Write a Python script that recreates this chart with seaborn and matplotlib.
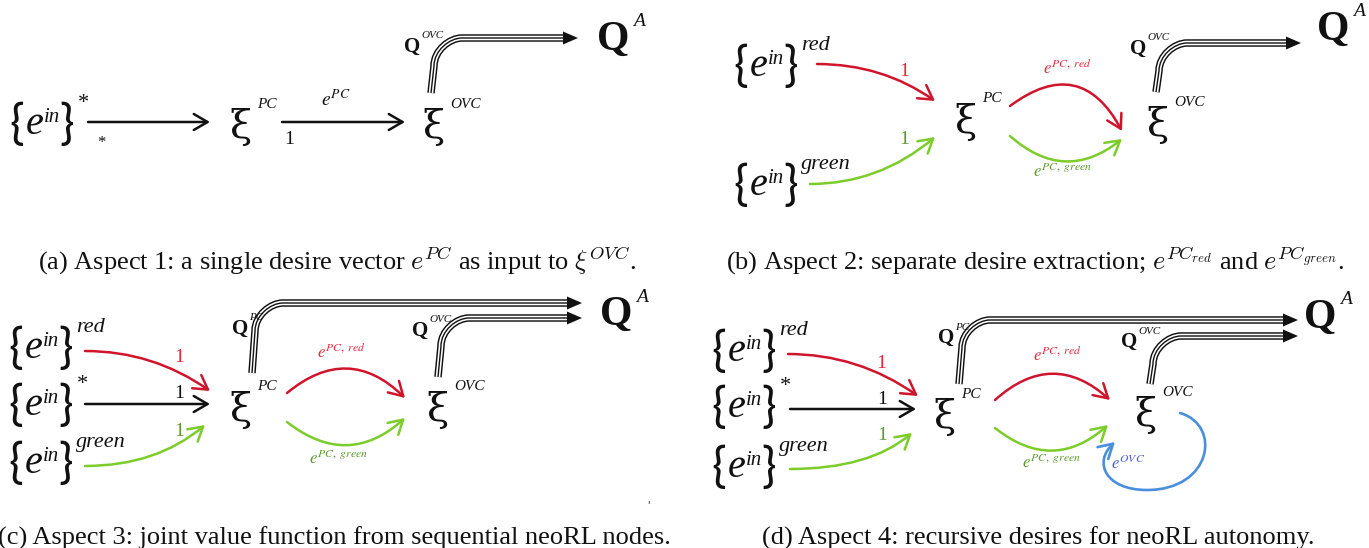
import matplotlib
matplotlib.use("Agg")
import matplotlib.pyplot as plt
import seaborn as sns
from matplotlib.patches import FancyArrowPatch, PathPatch
from matplotlib.path import Path

sns.set_theme(style="white")
plt.rcParams["font.family"] = ["DejaVu Sans"]

# ---------------- content ----------------
captions = [
    r"(a) Aspect 1: a single desire vector $e^{PC}$ as input to $\xi^{OVC}$.",
    r"(b) Aspect 2: separate desire extraction; $e^{PC_{red}}$ and $e^{PC_{green}}$.",
    "(c) Aspect 3: joint value function from sequential neoRL nodes.",
    "(d) Aspect 4: recursive desires for neoRL autonomy.",
]
source_sups = ["*", "red", "green", "red", "*", "green", "red", "*", "green"]
node_sups = ["PC", "OVC"]
edge_weights = ["*", "1", "1", "1", "1", "1", "1", "1", "1"]
desire_labels = [r"$e^{PC}$", r"$e^{PC,\ red}$", r"$e^{PC,\ green}$", r"$e^{OVC}$"]
q_labels = ["PC", "OVC", "A"]

RED, RED_T = "#d0142c", "#e8283a"
GREEN, GREEN_T = "#7ccc2a", "#5c9a2c"
BLUE, BLUE_T = "#4a8fdc", "#4a5cd8"
BLACK = "#111111"

W, H = 1369, 548
fig = plt.figure(figsize=(W / 100, H / 100), dpi=100)
ax = fig.add_axes([0, 0, 1, 1])
ax.set_xlim(0, W)
ax.set_ylim(H, 0)
ax.axis("off")

SERIF = "Liberation Serif"
BRACE = "Lato"


def ein(xc, yc, sup):
    ax.text(xc, yc + 2, "{", fontsize=35, family=BRACE, weight="normal", va="center", ha="center", color=BLACK)
    ax.text(xc + 9, yc + 11, "e", fontsize=29, family=SERIF, style="italic", va="baseline", ha="left", color=BLACK)
    ax.text(xc + 27, yc - 1, "in", fontsize=15, family=SERIF, style="italic", va="baseline", ha="left", color=BLACK)
    ax.text(xc + 50, yc + 2, "}", fontsize=35, family=BRACE, weight="normal", va="center", ha="center", color=BLACK)
    ax.text(xc + 60, yc - 15, sup, fontsize=16, family=SERIF, style="italic", va="baseline", ha="left", color=BLACK)


def xi(x, y, sup):
    ax.text(x, y, "ξ", fontsize=29, family="DejaVu Serif", va="center", ha="center", color=BLACK)
    ax.text(x + 17, y - 23, sup, fontsize=11, family=SERIF, style="italic", va="center", ha="left", color=BLACK)


def qsmall(x, y, sup):
    ax.text(x, y, "Q", fontsize=15, family=SERIF, weight="bold", va="center", ha="center", color=BLACK)
    ax.text(x + 9, y - 11, sup, fontsize=8, family=SERIF, style="italic", va="center", ha="left", color=BLACK)


def qbig(x, y, sup):
    ax.text(x, y, "Q", fontsize=30, family=SERIF, weight="bold", va="center", ha="center", color=BLACK)
    ax.text(x + 20, y - 18, sup, fontsize=14, family=SERIF, style="italic", va="center", ha="left", color=BLACK)


def qarrow(x0, y0, ytop, xend, r=28):
    k = 0.45
    verts = [(x0, y0), (x0 + 3, ytop + r), (x0 + 3, ytop + r * k), (x0 + 3 + r * (1 - k), ytop),
             (x0 + 3 + r, ytop), (xend - 12, ytop)]
    codes = [Path.MOVETO, Path.LINETO, Path.CURVE4, Path.CURVE4, Path.CURVE4, Path.LINETO]
    p = Path(verts, codes)
    ax.add_patch(PathPatch(p, fill=False, lw=5.4, color=BLACK, capstyle="butt"))
    ax.add_patch(PathPatch(p, fill=False, lw=3.3, color="white", capstyle="butt"))
    ax.add_patch(PathPatch(p, fill=False, lw=1.0, color=BLACK, capstyle="butt"))
    ax.fill([xend - 15, xend, xend - 15], [ytop - 6.5, ytop, ytop + 6.5], color=BLACK, lw=0)


def arrow(p0, p1, color, cs="arc3,rad=0", lw=1.8):
    a = FancyArrowPatch(p0, p1, connectionstyle=cs,
                        arrowstyle="->,head_length=0.55,head_width=0.32",
                        mutation_scale=18, lw=lw, color=color, shrinkA=0, shrinkB=0)
    ax.add_patch(a)


def lab(x, y, s, color, fs=13):
    ax.text(x, y, s, fontsize=fs, color=color, math_fontfamily="stix", family=SERIF,
            va="center", ha="center")


# ---------------- panel (a) ----------------
ein(17, 123, source_sups[0])
arrow((88, 122), (210, 122), BLACK)
ax.text(101, 143, edge_weights[0], fontsize=12, family=SERIF, ha="center", va="center", color=BLACK)
xi(240, 127, node_sups[0])
arrow((282, 122), (405, 122), BLACK)
lab(336, 100, desire_labels[0], BLACK, 14)
ax.text(289, 140, edge_weights[1], fontsize=14, family=SERIF, ha="center", va="center", color=BLACK)
xi(433, 127, node_sups[1])
qarrow(431, 93, 38, 578)
qsmall(412, 47, q_labels[1])
qbig(613, 40, q_labels[2])

# ---------------- panel (b) ----------------
ein(741, 65, source_sups[1])
ein(741, 184, source_sups[2])
arrow((817, 64), (935, 101), RED, "angle3,angleA=0,angleB=-35")
lab(904, 72, "1", RED_T, 14)
arrow((810, 184), (935, 137), GREEN, "angle3,angleA=0,angleB=40")
lab(904, 140, "1", GREEN_T, 14)
xi(965, 122, node_sups[0])
arrow((1010, 106), (1122, 131), RED, "arc3,rad=-0.58")
lab(1067, 68, desire_labels[1], RED_T, 12)
arrow((1010, 136), (1122, 139), GREEN, "arc3,rad=0.42")
lab(1062, 172, desire_labels[2], GREEN_T, 12)
xi(1157, 125, node_sups[1])
qarrow(1156, 92, 43, 1301)
qsmall(1138, 49, q_labels[1])
qbig(1333, 30, q_labels[2])

# ---------------- panel (c) ----------------
ein(16, 347, source_sups[3])
ein(16, 404, source_sups[4])
ein(16, 462, source_sups[5])
arrow((85, 351), (210, 391), RED, "angle3,angleA=0,angleB=-35")
lab(179, 357, "1", RED_T, 14)
arrow((85, 404), (210, 404), BLACK)
lab(179, 394, "1", BLACK, 14)
arrow((85, 466), (205, 425), GREEN, "angle3,angleA=0,angleB=40")
lab(179, 432, "1", GREEN_T, 14)
xi(240, 410, node_sups[0])
qarrow(252, 373, 303, 582)
qsmall(240, 329, q_labels[0])
arrow((287, 393), (405, 398), RED, "arc3,rad=-0.45")
lab(341, 352, desire_labels[1], RED_T, 12)
arrow((287, 422), (405, 418), GREEN, "arc3,rad=0.42")
lab(338, 459, desire_labels[2], GREEN_T, 12)
xi(437, 410, node_sups[1])
qarrow(438, 377, 318, 582)
qsmall(420, 331, q_labels[1])
qbig(616, 315, q_labels[2])
ax.text(648, 505, "'", fontsize=7, color=BLACK, ha="center", va="center")

# ---------------- panel (d) ----------------
ein(719, 350, source_sups[6])
ein(719, 406, source_sups[7])
ein(719, 466, source_sups[8])
arrow((788, 354), (918, 396), RED, "angle3,angleA=0,angleB=-35")
lab(881, 363, "1", RED_T, 14)
arrow((790, 409), (916, 409), BLACK)
lab(882, 399, "1", BLACK, 14)
arrow((790, 469), (912, 433), GREEN, "angle3,angleA=0,angleB=40")
lab(882, 435, "1", GREEN_T, 14)
xi(944, 417, node_sups[0])
qarrow(959, 384, 320, 1298)
qsmall(946, 338, q_labels[0])
arrow((995, 400), (1110, 400), RED, "arc3,rad=-0.45")
lab(1057, 355, desire_labels[1], RED_T, 12)
arrow((995, 428), (1108, 425), GREEN, "arc3,rad=0.42")
lab(1051, 463, desire_labels[2], GREEN_T, 12)
xi(1145, 415, node_sups[1])
qarrow(1150, 384, 336, 1298)
qsmall(1129, 342, q_labels[1])
qbig(1320, 318, q_labels[2])
loop = Path([(1180, 413), (1222, 425), (1212, 490), (1147, 490),
             (1105, 490), (1093, 462), (1115, 442)],
            [Path.MOVETO, Path.CURVE4, Path.CURVE4, Path.CURVE4,
             Path.CURVE4, Path.CURVE4, Path.CURVE4])
ax.add_patch(FancyArrowPatch(path=loop, arrowstyle="->,head_length=0.55,head_width=0.32",
                             mutation_scale=18, lw=1.9, color=BLUE))
lab(1128, 464, desire_labels[3], BLUE_T, 12)

# ---------------- captions ----------------
cap_pos = [(337, 260), (1035, 260), (334, 538), (1038, 538)]
for (cx, cy), c in zip(cap_pos, captions):
    ax.text(cx, cy, c, fontsize=19, family=SERIF, math_fontfamily="cm",
            ha="center", va="center", color=BLACK)

fig.savefig("out.png", dpi=100)
